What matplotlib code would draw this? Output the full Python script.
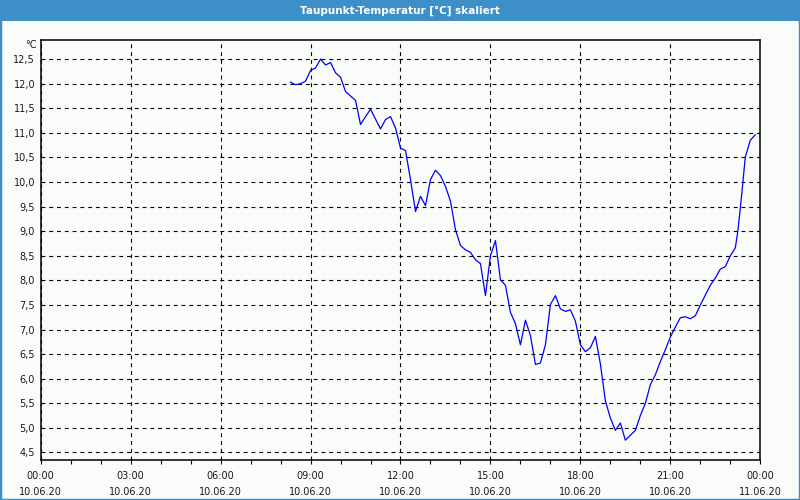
#!/usr/bin/env python3

"""Dew point temperature over one day (Taupunkt-Temperatur, scaled axis)."""

import matplotlib
matplotlib.use('Agg')
import matplotlib.dates as mdates
import matplotlib.pyplot as plt
import matplotlib.patches as mpatches
import matplotlib.ticker as mticker
import pandas as pd

TITLE = 'Taupunkt-Temperatur [°C] skaliert'
DAY = '2020-06-10'

# readings, 10 minute steps (a few 5 minute ones near the end)
times = ['08:20', '08:30', '08:40', '08:50', '09:00', '09:10', '09:20',
         '09:30', '09:40', '09:50', '10:00', '10:10', '10:20', '10:30',
         '10:40', '10:50', '11:00', '11:20', '11:30', '11:40', '11:50',
         '12:00', '12:10', '12:20', '12:30', '12:40', '12:50', '13:00',
         '13:10', '13:20', '13:30', '13:40', '13:50', '14:00', '14:10',
         '14:20', '14:30', '14:40', '14:50', '15:00', '15:10', '15:20',
         '15:30', '15:40', '15:50', '16:00', '16:10', '16:20', '16:30',
         '16:40', '16:50', '17:00', '17:10', '17:20', '17:30', '17:40',
         '17:50', '18:00', '18:10', '18:20', '18:30', '18:40', '18:50',
         '19:00', '19:10', '19:20', '19:30', '19:50', '20:00', '20:10',
         '20:20', '20:30', '20:40', '20:50', '21:00', '21:10', '21:20',
         '21:30', '21:40', '21:50', '22:00', '22:10', '22:20', '22:30',
         '22:40', '22:50', '23:00', '23:10', '23:15', '23:20', '23:25',
         '23:30', '23:40', '23:50']
dew_point = [12.03, 11.98, 12.00, 12.05, 12.27, 12.32, 12.50,
             12.38, 12.43, 12.22, 12.13, 11.84, 11.75, 11.66,
             11.17, 11.33, 11.48, 11.08, 11.27, 11.33, 11.10,
             10.69, 10.64, 10.05, 9.40, 9.71, 9.52, 10.05,
             10.24, 10.13, 9.91, 9.61, 9.03, 8.71, 8.62,
             8.57, 8.42, 8.34, 7.69, 8.50, 8.81, 8.01,
             7.90, 7.35, 7.12, 6.69, 7.19, 6.88, 6.29,
             6.32, 6.69, 7.51, 7.69, 7.42, 7.37, 7.40,
             7.17, 6.69, 6.55, 6.63, 6.86, 6.30, 5.55,
             5.20, 4.95, 5.10, 4.75, 4.95, 5.25, 5.50,
             5.88, 6.08, 6.35, 6.59, 6.85, 7.05, 7.24,
             7.26, 7.22, 7.28, 7.50, 7.70, 7.90, 8.05,
             8.23, 8.28, 8.50, 8.66, 9.00, 9.47, 9.98,
             10.51, 10.85, 10.96]

y_ticks = [4.5, 5.0, 5.5, 6.0, 6.5, 7.0, 7.5, 8.0, 8.5, 9.0,
           9.5, 10.0, 10.5, 11.0, 11.5, 12.0, 12.5]

FRAME = '#3d8fc7'
BG = '#fafcfa'
TXT = '#1a1a1a'

plt.rcParams['font.family'] = ['DejaVu Sans']

stamps = pd.to_datetime([DAY + ' ' + t for t in times])
start = pd.Timestamp(DAY)
end = start + pd.Timedelta(days=1)

fig = plt.figure(figsize=(8, 5), dpi=100, facecolor=BG)

# window frame and title bar
fig.patches.append(mpatches.Rectangle((0, 0), 1, 1, transform=fig.transFigure,
                                      fill=False, edgecolor=FRAME, lw=2.5))
fig.patches.append(mpatches.Rectangle((0, 1 - 21 / 500), 1, 21 / 500,
                                      transform=fig.transFigure,
                                      facecolor=FRAME, edgecolor='none'))
fig.text(0.5, 1 - 10.5 / 500, TITLE, color='white', ha='center', va='center',
         fontsize=7.5, fontweight='bold')

ax = fig.add_axes([40.7 / 800, 39.7 / 500, 719.6 / 800, 420.0 / 500])
ax.set_facecolor(BG)
ax.plot(stamps, dew_point, color='#0000ff', lw=0.9)

ax.set_xlim(start, end)
ax.set_ylim(4.341, 12.882)

ax.xaxis.set_major_locator(mdates.HourLocator(byhour=range(0, 24, 3)))
ax.xaxis.set_minor_locator(mdates.HourLocator())
ax.xaxis.set_major_formatter(mdates.DateFormatter('%H:%M\n%d.%m.%y'))
ax.set_yticks(y_ticks)
ax.yaxis.set_major_formatter(
    mticker.FuncFormatter(lambda v, p: '{:.1f}'.format(v).replace('.', ',')))

ax.tick_params(axis='x', which='both', direction='out', length=3, width=0.8,
               color='black', labelsize=7, labelcolor=TXT, pad=5)
for lab in ax.get_xticklabels():
    lab.set_linespacing(1.75)
ax.tick_params(axis='y', length=0, labelsize=7, labelcolor=TXT, pad=4)

ax.grid(True, which='major', color='black', lw=0.8, ls=(0, (3.5, 3.5)))
for s in ax.spines.values():
    s.set_color('black')
    s.set_linewidth(1.1)

ax.text(-4 / 719.6, 1 - 4.5 / 420, '°C', transform=ax.transAxes,
        ha='right', va='center', fontsize=7, color=TXT)

plt.savefig('out.png', dpi=100, facecolor=BG)
